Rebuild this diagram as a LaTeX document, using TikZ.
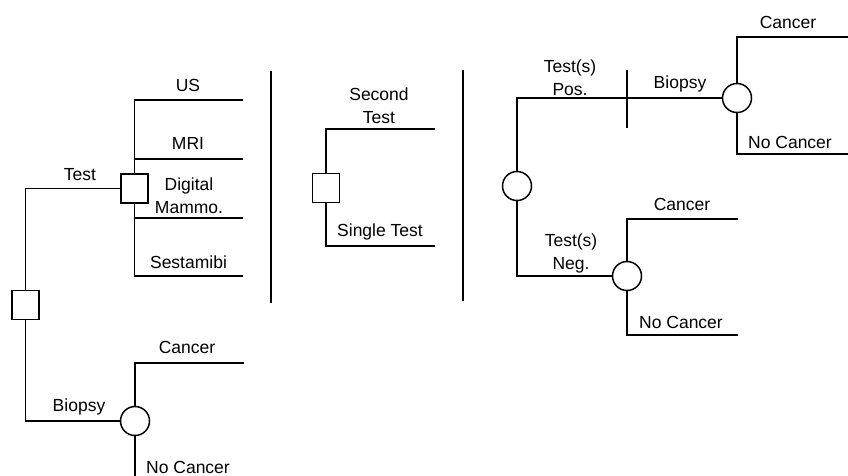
\documentclass[tikz,border=0pt]{standalone}
\usepackage{fontspec}
\setmainfont{Liberation Sans}
\begin{document}
\begin{tikzpicture}[x=1pt,y=-1pt,line width=1.5pt,
  dec/.style={draw,rectangle,minimum width=27pt,minimum height=29pt,inner sep=0pt,fill=white},
  chance/.style={draw,circle,minimum size=29pt,inner sep=0pt,fill=white},
  lbl/.style={font=\fontsize{17.5}{23}\selectfont,align=center,inner sep=0pt,anchor=base},
  edge/.style={draw,line width=1.5pt}]
\useasboundingbox (0,0) rectangle (848,475);
% ---- left tree
\node[dec] (root) at (25.5,305) {};
\node[dec] (test) at (134.5,188.5) {};
\node[chance] (bio) at (135,421) {};
\coordinate (us) at (243,100);
\coordinate (mri) at (243,159);
\coordinate (dig) at (243,218);
\coordinate (ses) at (243,276);
\coordinate (bcan) at (244,363);
\coordinate (bnc) at (135,476);
\draw[edge] (root.north) |- (test.west);
\draw[edge] (root.south) |- (bio.west);
\draw[edge] (test.north) |- (us);
\draw[edge] (test.north) |- (mri);
\draw[edge] (test.south) |- (dig);
\draw[edge] (test.south) |- (ses);
\draw[edge] (bio.north) |- (bcan);
\draw[edge] (bio.south) -- (bnc);
\node[lbl] (lTest) at (80,180) {Test};
\node[lbl] (lUS) at (188,91) {US};
\node[lbl] (lMRI) at (188,149) {MRI};
\node[lbl] (lDig) at (189,213) {Digital\\Mammo.};
\node[lbl] (lSes) at (188.5,268) {Sestamibi};
\node[lbl] (lBio) at (79,411) {Biopsy};
\node[lbl] (lCan) at (187,353) {Cancer};
\node[lbl] (lNC) at (188,473) {No Cancer};
% ---- divider 1
\coordinate (d1a) at (271,71);
\coordinate (d1b) at (271,303);
\draw[edge] (d1a) -- (d1b);
% ---- middle tree
\node[dec] (sec) at (326,188) {};
\coordinate (st) at (435,129);
\coordinate (sg) at (435,246);
\draw[edge] (sec.north) |- (st);
\draw[edge] (sec.south) |- (sg);
\node[lbl] (lSec) at (379,123) {Second\\Test};
\node[lbl] (lSgl) at (380,236) {Single Test};
% ---- divider 2
\coordinate (d2a) at (463,70);
\coordinate (d2b) at (463,301);
\draw[edge] (d2a) -- (d2b);
% ---- right tree
\node[chance] (rc) at (517,186) {};
\node[chance] (pb) at (737,98) {};
\node[chance] (neg) at (627,276) {};
\coordinate (tka) at (627,70);
\coordinate (tkb) at (627,128);
\coordinate (pcan) at (848,37);
\coordinate (pnc) at (848,154);
\coordinate (ncan) at (738,219);
\coordinate (nnc) at (738,335);
\draw[edge] (rc.north) |- (pb.west);
\draw[edge] (tka) -- (tkb);
\draw[edge] (pb.north) |- (pcan);
\draw[edge] (pb.south) |- (pnc);
\draw[edge] (rc.south) |- (neg.west);
\draw[edge] (neg.north) |- (ncan);
\draw[edge] (neg.south) |- (nnc);
\node[lbl] (lPos) at (570,95) {Test(s)\\Pos.};
\node[lbl] (lPB) at (680,88) {Biopsy};
\node[lbl] (lPC) at (788,28) {Cancer};
\node[lbl] (lPN) at (790,148) {No Cancer};
\node[lbl] (lNeg) at (571,269) {Test(s)\\Neg.};
\node[lbl] (lNC2) at (682,210) {Cancer};
\node[lbl] (lNN) at (681,328) {No Cancer};
\end{tikzpicture}
\end{document}
